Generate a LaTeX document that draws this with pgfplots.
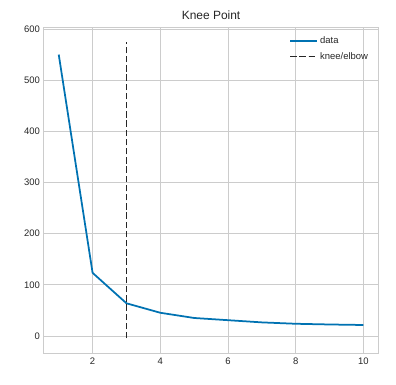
\documentclass[border=0pt]{standalone}
\usepackage{pgfplots}
\pgfplotsset{compat=1.18}
\usepackage{fontspec}
\setmainfont{Liberation Sans}
\definecolor{ybblue}{RGB}{0,114,178}
\definecolor{gridc}{RGB}{204,204,204}
\definecolor{txt}{RGB}{38,38,38}
\begin{document}
\begin{tikzpicture}[x=1bp,y=1bp]
\useasboundingbox (-43.5bp,-31.7bp) rectangle (352.5bp,353.3bp);
\begin{axis}[
  at={(0,0)}, anchor=south west,
  scale only axis, width=335.2bp, height=326bp,
  xmin=0.55, xmax=10.45, ymin=-33.7, ymax=603.3,
  xtick={2,4,6,8,10}, ytick={0,100,200,300,400,500,600},
  grid=major, grid style={gridc, line width=0.9bp},
  axis line style={gridc, line width=1.2bp},
  tick style={draw=none},
  tick label style={font=\fontsize{9.5}{11}\selectfont, text=txt},
  /pgf/number format/assume math mode=true,
  xticklabel style={yshift=-1bp},
  title={Knee Point},
  title style={font=\fontsize{12}{14}\selectfont, text=txt, yshift=-2bp},
  legend style={at={(rel axis cs:1,1)}, anchor=north east, draw=none, fill=none,
    font=\fontsize{9.5}{11}\selectfont, text=txt, xshift=-5.5bp, yshift=-5bp,
    row sep=3.5bp},
  legend cell align=left,
  legend image code/.code={\draw[#1] (0bp,0bp) -- (22bp,0bp); \path (0bp,0bp) -- (27bp,0bp);},
]
\addplot[ybblue, line width=1.75bp] coordinates {
(1,550) (2,123.5) (3,64) (4,45.5) (5,35.3) (6,31) (7,26.7) (8,24) (9,22.6) (10,21.6)};
\addlegendentry{data}
\addplot[black!85, line width=1.75bp, dash pattern=on 6.4bp off 2.8bp] coordinates {(3,-4.7) (3,574.3)};
\addlegendentry{knee/elbow}
\end{axis}
\end{tikzpicture}
\end{document}
